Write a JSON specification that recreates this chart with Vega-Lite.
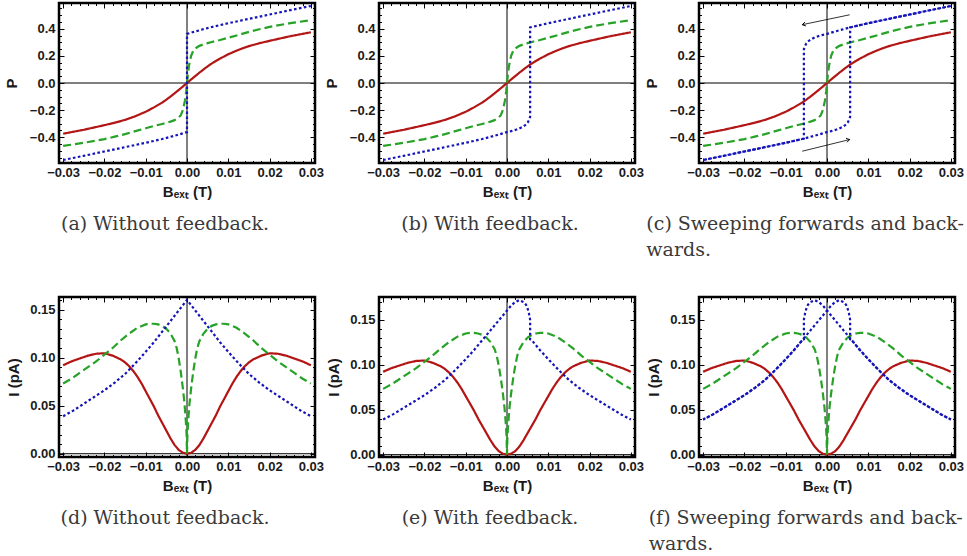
{
"$schema": "https://vega.github.io/schema/vega-lite/v6.json",
"padding": {"left": 3, "top": 0, "right": 5, "bottom": 5},
"background": "white",
"config": {
 "view": {"stroke": "#000000", "strokeWidth": 2, "strokeOpacity": 1},
 "axis": {"grid": false, "domain": false, "tickColor": "black", "tickWidth": 1, "labelFont": "Liberation Sans", "labelFontWeight": "bold", "labelFontSize": 13, "labelColor": "#1a1a1a", "titleFont": "Liberation Sans", "titleFontWeight": "bold", "titleFontSize": 15, "titleColor": "#1a1a1a", "labelFlush": false, "labelOverlap": false},
 "title": {"orient": "bottom", "font": "DejaVu Serif", "fontSize": 19, "fontWeight": "normal", "color": "#3a3a3a", "offset": 15, "anchor": "middle"}
},
"datasets": {
 "arrows": [
  {"dir": "left", "x1": 0.0055, "y1": 0.503, "x2": -0.006, "y2": 0.43},
  {"dir": "right", "x1": -0.006, "y1": -0.503, "x2": 0.0055, "y2": -0.417}
 ],
 "curves": [
  {"p":"abc","s":"rP","c":"red","B":-0.03,"v":-0.374},
  {"p":"abc","s":"rP","c":"red","B":-0.025,"v":-0.345},
  {"p":"abc","s":"rP","c":"red","B":-0.02,"v":-0.311},
  {"p":"abc","s":"rP","c":"red","B":-0.0175,"v":-0.293},
  {"p":"abc","s":"rP","c":"red","B":-0.015,"v":-0.272},
  {"p":"abc","s":"rP","c":"red","B":-0.0125,"v":-0.245},
  {"p":"abc","s":"rP","c":"red","B":-0.01,"v":-0.212},
  {"p":"abc","s":"rP","c":"red","B":-0.008,"v":-0.18},
  {"p":"abc","s":"rP","c":"red","B":-0.006,"v":-0.144},
  {"p":"abc","s":"rP","c":"red","B":-0.005,"v":-0.123},
  {"p":"abc","s":"rP","c":"red","B":-0.004,"v":-0.1},
  {"p":"abc","s":"rP","c":"red","B":-0.003,"v":-0.076},
  {"p":"abc","s":"rP","c":"red","B":-0.002,"v":-0.051},
  {"p":"abc","s":"rP","c":"red","B":-0.001,"v":-0.026},
  {"p":"abc","s":"rP","c":"red","B":0,"v":0},
  {"p":"abc","s":"rP","c":"red","B":0.001,"v":0.026},
  {"p":"abc","s":"rP","c":"red","B":0.002,"v":0.051},
  {"p":"abc","s":"rP","c":"red","B":0.003,"v":0.076},
  {"p":"abc","s":"rP","c":"red","B":0.004,"v":0.1},
  {"p":"abc","s":"rP","c":"red","B":0.005,"v":0.123},
  {"p":"abc","s":"rP","c":"red","B":0.006,"v":0.144},
  {"p":"abc","s":"rP","c":"red","B":0.008,"v":0.18},
  {"p":"abc","s":"rP","c":"red","B":0.01,"v":0.212},
  {"p":"abc","s":"rP","c":"red","B":0.0125,"v":0.245},
  {"p":"abc","s":"rP","c":"red","B":0.015,"v":0.272},
  {"p":"abc","s":"rP","c":"red","B":0.0175,"v":0.293},
  {"p":"abc","s":"rP","c":"red","B":0.02,"v":0.311},
  {"p":"abc","s":"rP","c":"red","B":0.025,"v":0.345},
  {"p":"abc","s":"rP","c":"red","B":0.03,"v":0.374},

  {"p":"abc","s":"gP","c":"green","B":-0.03,"v":-0.464},
  {"p":"abc","s":"gP","c":"green","B":-0.025,"v":-0.441},
  {"p":"abc","s":"gP","c":"green","B":-0.02,"v":-0.414},
  {"p":"abc","s":"gP","c":"green","B":-0.0175,"v":-0.396},
  {"p":"abc","s":"gP","c":"green","B":-0.015,"v":-0.377},
  {"p":"abc","s":"gP","c":"green","B":-0.0125,"v":-0.355},
  {"p":"abc","s":"gP","c":"green","B":-0.01,"v":-0.334},
  {"p":"abc","s":"gP","c":"green","B":-0.008,"v":-0.317},
  {"p":"abc","s":"gP","c":"green","B":-0.006,"v":-0.302},
  {"p":"abc","s":"gP","c":"green","B":-0.005,"v":-0.294},
  {"p":"abc","s":"gP","c":"green","B":-0.004,"v":-0.285},
  {"p":"abc","s":"gP","c":"green","B":-0.003,"v":-0.274},
  {"p":"abc","s":"gP","c":"green","B":-0.002,"v":-0.255},
  {"p":"abc","s":"gP","c":"green","B":-0.0015,"v":-0.237},
  {"p":"abc","s":"gP","c":"green","B":-0.001,"v":-0.2},
  {"p":"abc","s":"gP","c":"green","B":-0.0005,"v":-0.13},
  {"p":"abc","s":"gP","c":"green","B":-0.0002,"v":-0.06},
  {"p":"abc","s":"gP","c":"green","B":0,"v":0},
  {"p":"abc","s":"gP","c":"green","B":0.0002,"v":0.06},
  {"p":"abc","s":"gP","c":"green","B":0.0005,"v":0.13},
  {"p":"abc","s":"gP","c":"green","B":0.001,"v":0.2},
  {"p":"abc","s":"gP","c":"green","B":0.0015,"v":0.237},
  {"p":"abc","s":"gP","c":"green","B":0.002,"v":0.255},
  {"p":"abc","s":"gP","c":"green","B":0.003,"v":0.274},
  {"p":"abc","s":"gP","c":"green","B":0.004,"v":0.285},
  {"p":"abc","s":"gP","c":"green","B":0.005,"v":0.294},
  {"p":"abc","s":"gP","c":"green","B":0.006,"v":0.302},
  {"p":"abc","s":"gP","c":"green","B":0.008,"v":0.317},
  {"p":"abc","s":"gP","c":"green","B":0.01,"v":0.334},
  {"p":"abc","s":"gP","c":"green","B":0.0125,"v":0.355},
  {"p":"abc","s":"gP","c":"green","B":0.015,"v":0.377},
  {"p":"abc","s":"gP","c":"green","B":0.0175,"v":0.396},
  {"p":"abc","s":"gP","c":"green","B":0.02,"v":0.414},
  {"p":"abc","s":"gP","c":"green","B":0.025,"v":0.441},
  {"p":"abc","s":"gP","c":"green","B":0.03,"v":0.464},

  {"p":"a","s":"bA","c":"blue","B":-0.03,"v":-0.568},
  {"p":"a","s":"bA","c":"blue","B":-0.025,"v":-0.537},
  {"p":"a","s":"bA","c":"blue","B":-0.02,"v":-0.505},
  {"p":"a","s":"bA","c":"blue","B":-0.0175,"v":-0.489},
  {"p":"a","s":"bA","c":"blue","B":-0.015,"v":-0.473},
  {"p":"a","s":"bA","c":"blue","B":-0.0125,"v":-0.457},
  {"p":"a","s":"bA","c":"blue","B":-0.01,"v":-0.441},
  {"p":"a","s":"bA","c":"blue","B":-0.008,"v":-0.427},
  {"p":"a","s":"bA","c":"blue","B":-0.006,"v":-0.413},
  {"p":"a","s":"bA","c":"blue","B":-0.004,"v":-0.397},
  {"p":"a","s":"bA","c":"blue","B":-0.002,"v":-0.38},
  {"p":"a","s":"bA","c":"blue","B":0,"v":-0.362},
  {"p":"a","s":"bA","c":"blue","B":0,"v":0.362},
  {"p":"a","s":"bA","c":"blue","B":0.002,"v":0.38},
  {"p":"a","s":"bA","c":"blue","B":0.004,"v":0.397},
  {"p":"a","s":"bA","c":"blue","B":0.006,"v":0.413},
  {"p":"a","s":"bA","c":"blue","B":0.008,"v":0.427},
  {"p":"a","s":"bA","c":"blue","B":0.01,"v":0.441},
  {"p":"a","s":"bA","c":"blue","B":0.0125,"v":0.457},
  {"p":"a","s":"bA","c":"blue","B":0.015,"v":0.473},
  {"p":"a","s":"bA","c":"blue","B":0.0175,"v":0.489},
  {"p":"a","s":"bA","c":"blue","B":0.02,"v":0.505},
  {"p":"a","s":"bA","c":"blue","B":0.025,"v":0.537},
  {"p":"a","s":"bA","c":"blue","B":0.03,"v":0.568},

  {"p":"bc","s":"bF","c":"blue","B":-0.03,"v":-0.568},
  {"p":"bc","s":"bF","c":"blue","B":-0.025,"v":-0.537},
  {"p":"bc","s":"bF","c":"blue","B":-0.02,"v":-0.505},
  {"p":"bc","s":"bF","c":"blue","B":-0.0175,"v":-0.489},
  {"p":"bc","s":"bF","c":"blue","B":-0.015,"v":-0.473},
  {"p":"bc","s":"bF","c":"blue","B":-0.0125,"v":-0.457},
  {"p":"bc","s":"bF","c":"blue","B":-0.01,"v":-0.441},
  {"p":"bc","s":"bF","c":"blue","B":-0.008,"v":-0.427},
  {"p":"bc","s":"bF","c":"blue","B":-0.006,"v":-0.413},
  {"p":"bc","s":"bF","c":"blue","B":-0.004,"v":-0.397},
  {"p":"bc","s":"bF","c":"blue","B":-0.002,"v":-0.38},
  {"p":"bc","s":"bF","c":"blue","B":0,"v":-0.362},
  {"p":"bc","s":"bF","c":"blue","B":0.001,"v":-0.355},
  {"p":"bc","s":"bF","c":"blue","B":0.002,"v":-0.346},
  {"p":"bc","s":"bF","c":"blue","B":0.003,"v":-0.335},
  {"p":"bc","s":"bF","c":"blue","B":0.004,"v":-0.32},
  {"p":"bc","s":"bF","c":"blue","B":0.0045,"v":-0.308},
  {"p":"bc","s":"bF","c":"blue","B":0.005,"v":-0.292},
  {"p":"bc","s":"bF","c":"blue","B":0.0053,"v":-0.275},
  {"p":"bc","s":"bF","c":"blue","B":0.0056,"v":-0.25},
  {"p":"bc","s":"bF","c":"blue","B":0.0056,"v":0.41},
  {"p":"bc","s":"bF","c":"blue","B":0.006,"v":0.413},
  {"p":"bc","s":"bF","c":"blue","B":0.008,"v":0.427},
  {"p":"bc","s":"bF","c":"blue","B":0.01,"v":0.441},
  {"p":"bc","s":"bF","c":"blue","B":0.0125,"v":0.457},
  {"p":"bc","s":"bF","c":"blue","B":0.015,"v":0.473},
  {"p":"bc","s":"bF","c":"blue","B":0.0175,"v":0.489},
  {"p":"bc","s":"bF","c":"blue","B":0.02,"v":0.505},
  {"p":"bc","s":"bF","c":"blue","B":0.025,"v":0.537},
  {"p":"bc","s":"bF","c":"blue","B":0.03,"v":0.568},

  {"p":"c","s":"bR","c":"blue","B":0.03,"v":0.568},
  {"p":"c","s":"bR","c":"blue","B":0.025,"v":0.537},
  {"p":"c","s":"bR","c":"blue","B":0.02,"v":0.505},
  {"p":"c","s":"bR","c":"blue","B":0.0175,"v":0.489},
  {"p":"c","s":"bR","c":"blue","B":0.015,"v":0.473},
  {"p":"c","s":"bR","c":"blue","B":0.0125,"v":0.457},
  {"p":"c","s":"bR","c":"blue","B":0.01,"v":0.441},
  {"p":"c","s":"bR","c":"blue","B":0.008,"v":0.427},
  {"p":"c","s":"bR","c":"blue","B":0.006,"v":0.413},
  {"p":"c","s":"bR","c":"blue","B":0.004,"v":0.397},
  {"p":"c","s":"bR","c":"blue","B":0.002,"v":0.38},
  {"p":"c","s":"bR","c":"blue","B":0,"v":0.362},
  {"p":"c","s":"bR","c":"blue","B":-0.001,"v":0.355},
  {"p":"c","s":"bR","c":"blue","B":-0.002,"v":0.346},
  {"p":"c","s":"bR","c":"blue","B":-0.003,"v":0.335},
  {"p":"c","s":"bR","c":"blue","B":-0.004,"v":0.32},
  {"p":"c","s":"bR","c":"blue","B":-0.0045,"v":0.308},
  {"p":"c","s":"bR","c":"blue","B":-0.005,"v":0.292},
  {"p":"c","s":"bR","c":"blue","B":-0.0053,"v":0.275},
  {"p":"c","s":"bR","c":"blue","B":-0.0056,"v":0.25},
  {"p":"c","s":"bR","c":"blue","B":-0.0056,"v":-0.41},
  {"p":"c","s":"bR","c":"blue","B":-0.006,"v":-0.413},
  {"p":"c","s":"bR","c":"blue","B":-0.008,"v":-0.427},
  {"p":"c","s":"bR","c":"blue","B":-0.01,"v":-0.441},
  {"p":"c","s":"bR","c":"blue","B":-0.0125,"v":-0.457},
  {"p":"c","s":"bR","c":"blue","B":-0.015,"v":-0.473},
  {"p":"c","s":"bR","c":"blue","B":-0.0175,"v":-0.489},
  {"p":"c","s":"bR","c":"blue","B":-0.02,"v":-0.505},
  {"p":"c","s":"bR","c":"blue","B":-0.025,"v":-0.537},
  {"p":"c","s":"bR","c":"blue","B":-0.03,"v":-0.568},

  {"p":"def","s":"rI","c":"red","B":-0.03,"v":0.092},
  {"p":"def","s":"rI","c":"red","B":-0.028,"v":0.096},
  {"p":"def","s":"rI","c":"red","B":-0.026,"v":0.099},
  {"p":"def","s":"rI","c":"red","B":-0.024,"v":0.102},
  {"p":"def","s":"rI","c":"red","B":-0.022,"v":0.104},
  {"p":"def","s":"rI","c":"red","B":-0.02,"v":0.1045},
  {"p":"def","s":"rI","c":"red","B":-0.018,"v":0.102},
  {"p":"def","s":"rI","c":"red","B":-0.016,"v":0.098},
  {"p":"def","s":"rI","c":"red","B":-0.015,"v":0.095},
  {"p":"def","s":"rI","c":"red","B":-0.014,"v":0.091},
  {"p":"def","s":"rI","c":"red","B":-0.013,"v":0.086},
  {"p":"def","s":"rI","c":"red","B":-0.012,"v":0.08},
  {"p":"def","s":"rI","c":"red","B":-0.011,"v":0.073},
  {"p":"def","s":"rI","c":"red","B":-0.01,"v":0.065},
  {"p":"def","s":"rI","c":"red","B":-0.009,"v":0.057},
  {"p":"def","s":"rI","c":"red","B":-0.008,"v":0.049},
  {"p":"def","s":"rI","c":"red","B":-0.007,"v":0.04},
  {"p":"def","s":"rI","c":"red","B":-0.006,"v":0.032},
  {"p":"def","s":"rI","c":"red","B":-0.005,"v":0.024},
  {"p":"def","s":"rI","c":"red","B":-0.004,"v":0.016},
  {"p":"def","s":"rI","c":"red","B":-0.003,"v":0.009},
  {"p":"def","s":"rI","c":"red","B":-0.002,"v":0.004},
  {"p":"def","s":"rI","c":"red","B":-0.001,"v":0.001},
  {"p":"def","s":"rI","c":"red","B":0,"v":0},
  {"p":"def","s":"rI","c":"red","B":0.001,"v":0.001},
  {"p":"def","s":"rI","c":"red","B":0.002,"v":0.004},
  {"p":"def","s":"rI","c":"red","B":0.003,"v":0.009},
  {"p":"def","s":"rI","c":"red","B":0.004,"v":0.016},
  {"p":"def","s":"rI","c":"red","B":0.005,"v":0.024},
  {"p":"def","s":"rI","c":"red","B":0.006,"v":0.032},
  {"p":"def","s":"rI","c":"red","B":0.007,"v":0.04},
  {"p":"def","s":"rI","c":"red","B":0.008,"v":0.049},
  {"p":"def","s":"rI","c":"red","B":0.009,"v":0.057},
  {"p":"def","s":"rI","c":"red","B":0.01,"v":0.065},
  {"p":"def","s":"rI","c":"red","B":0.011,"v":0.073},
  {"p":"def","s":"rI","c":"red","B":0.012,"v":0.08},
  {"p":"def","s":"rI","c":"red","B":0.013,"v":0.086},
  {"p":"def","s":"rI","c":"red","B":0.014,"v":0.091},
  {"p":"def","s":"rI","c":"red","B":0.015,"v":0.095},
  {"p":"def","s":"rI","c":"red","B":0.016,"v":0.098},
  {"p":"def","s":"rI","c":"red","B":0.018,"v":0.102},
  {"p":"def","s":"rI","c":"red","B":0.02,"v":0.1045},
  {"p":"def","s":"rI","c":"red","B":0.022,"v":0.104},
  {"p":"def","s":"rI","c":"red","B":0.024,"v":0.102},
  {"p":"def","s":"rI","c":"red","B":0.026,"v":0.099},
  {"p":"def","s":"rI","c":"red","B":0.028,"v":0.096},
  {"p":"def","s":"rI","c":"red","B":0.03,"v":0.092},

  {"p":"def","s":"gI","c":"green","B":-0.03,"v":0.073},
  {"p":"def","s":"gI","c":"green","B":-0.028,"v":0.078},
  {"p":"def","s":"gI","c":"green","B":-0.026,"v":0.084},
  {"p":"def","s":"gI","c":"green","B":-0.024,"v":0.09},
  {"p":"def","s":"gI","c":"green","B":-0.022,"v":0.096},
  {"p":"def","s":"gI","c":"green","B":-0.02,"v":0.103},
  {"p":"def","s":"gI","c":"green","B":-0.018,"v":0.11},
  {"p":"def","s":"gI","c":"green","B":-0.016,"v":0.118},
  {"p":"def","s":"gI","c":"green","B":-0.014,"v":0.125},
  {"p":"def","s":"gI","c":"green","B":-0.012,"v":0.131},
  {"p":"def","s":"gI","c":"green","B":-0.01,"v":0.1345},
  {"p":"def","s":"gI","c":"green","B":-0.009,"v":0.1352},
  {"p":"def","s":"gI","c":"green","B":-0.008,"v":0.1352},
  {"p":"def","s":"gI","c":"green","B":-0.007,"v":0.1345},
  {"p":"def","s":"gI","c":"green","B":-0.006,"v":0.133},
  {"p":"def","s":"gI","c":"green","B":-0.005,"v":0.13},
  {"p":"def","s":"gI","c":"green","B":-0.004,"v":0.125},
  {"p":"def","s":"gI","c":"green","B":-0.003,"v":0.117},
  {"p":"def","s":"gI","c":"green","B":-0.0025,"v":0.11},
  {"p":"def","s":"gI","c":"green","B":-0.002,"v":0.099},
  {"p":"def","s":"gI","c":"green","B":-0.0015,"v":0.085},
  {"p":"def","s":"gI","c":"green","B":-0.001,"v":0.068},
  {"p":"def","s":"gI","c":"green","B":-0.0006,"v":0.052},
  {"p":"def","s":"gI","c":"green","B":-0.0003,"v":0.035},
  {"p":"def","s":"gI","c":"green","B":-0.0001,"v":0.02},
  {"p":"def","s":"gI","c":"green","B":0,"v":0},
  {"p":"def","s":"gI","c":"green","B":0.0001,"v":0.02},
  {"p":"def","s":"gI","c":"green","B":0.0003,"v":0.035},
  {"p":"def","s":"gI","c":"green","B":0.0006,"v":0.052},
  {"p":"def","s":"gI","c":"green","B":0.001,"v":0.068},
  {"p":"def","s":"gI","c":"green","B":0.0015,"v":0.085},
  {"p":"def","s":"gI","c":"green","B":0.002,"v":0.099},
  {"p":"def","s":"gI","c":"green","B":0.0025,"v":0.11},
  {"p":"def","s":"gI","c":"green","B":0.003,"v":0.117},
  {"p":"def","s":"gI","c":"green","B":0.004,"v":0.125},
  {"p":"def","s":"gI","c":"green","B":0.005,"v":0.13},
  {"p":"def","s":"gI","c":"green","B":0.006,"v":0.133},
  {"p":"def","s":"gI","c":"green","B":0.007,"v":0.1345},
  {"p":"def","s":"gI","c":"green","B":0.008,"v":0.1352},
  {"p":"def","s":"gI","c":"green","B":0.009,"v":0.1352},
  {"p":"def","s":"gI","c":"green","B":0.01,"v":0.1345},
  {"p":"def","s":"gI","c":"green","B":0.012,"v":0.131},
  {"p":"def","s":"gI","c":"green","B":0.014,"v":0.125},
  {"p":"def","s":"gI","c":"green","B":0.016,"v":0.118},
  {"p":"def","s":"gI","c":"green","B":0.018,"v":0.11},
  {"p":"def","s":"gI","c":"green","B":0.02,"v":0.103},
  {"p":"def","s":"gI","c":"green","B":0.022,"v":0.096},
  {"p":"def","s":"gI","c":"green","B":0.024,"v":0.09},
  {"p":"def","s":"gI","c":"green","B":0.026,"v":0.084},
  {"p":"def","s":"gI","c":"green","B":0.028,"v":0.078},
  {"p":"def","s":"gI","c":"green","B":0.03,"v":0.073},

  {"p":"d","s":"bD","c":"blue","B":-0.03,"v":0.039},
  {"p":"d","s":"bD","c":"blue","B":-0.0275,"v":0.045},
  {"p":"d","s":"bD","c":"blue","B":-0.025,"v":0.052},
  {"p":"d","s":"bD","c":"blue","B":-0.0225,"v":0.059},
  {"p":"d","s":"bD","c":"blue","B":-0.02,"v":0.066},
  {"p":"d","s":"bD","c":"blue","B":-0.0175,"v":0.074},
  {"p":"d","s":"bD","c":"blue","B":-0.015,"v":0.083},
  {"p":"d","s":"bD","c":"blue","B":-0.0125,"v":0.094},
  {"p":"d","s":"bD","c":"blue","B":-0.01,"v":0.106},
  {"p":"d","s":"bD","c":"blue","B":-0.008,"v":0.116},
  {"p":"d","s":"bD","c":"blue","B":-0.006,"v":0.127},
  {"p":"d","s":"bD","c":"blue","B":-0.004,"v":0.138},
  {"p":"d","s":"bD","c":"blue","B":-0.002,"v":0.149},
  {"p":"d","s":"bD","c":"blue","B":0,"v":0.16},
  {"p":"d","s":"bD","c":"blue","B":0.002,"v":0.149},
  {"p":"d","s":"bD","c":"blue","B":0.004,"v":0.138},
  {"p":"d","s":"bD","c":"blue","B":0.006,"v":0.127},
  {"p":"d","s":"bD","c":"blue","B":0.008,"v":0.116},
  {"p":"d","s":"bD","c":"blue","B":0.01,"v":0.106},
  {"p":"d","s":"bD","c":"blue","B":0.0125,"v":0.094},
  {"p":"d","s":"bD","c":"blue","B":0.015,"v":0.083},
  {"p":"d","s":"bD","c":"blue","B":0.0175,"v":0.074},
  {"p":"d","s":"bD","c":"blue","B":0.02,"v":0.066},
  {"p":"d","s":"bD","c":"blue","B":0.0225,"v":0.059},
  {"p":"d","s":"bD","c":"blue","B":0.025,"v":0.052},
  {"p":"d","s":"bD","c":"blue","B":0.0275,"v":0.045},
  {"p":"d","s":"bD","c":"blue","B":0.03,"v":0.039},

  {"p":"ef","s":"bFI","c":"blue","B":-0.03,"v":0.039},
  {"p":"ef","s":"bFI","c":"blue","B":-0.0275,"v":0.045},
  {"p":"ef","s":"bFI","c":"blue","B":-0.025,"v":0.052},
  {"p":"ef","s":"bFI","c":"blue","B":-0.0225,"v":0.059},
  {"p":"ef","s":"bFI","c":"blue","B":-0.02,"v":0.066},
  {"p":"ef","s":"bFI","c":"blue","B":-0.0175,"v":0.074},
  {"p":"ef","s":"bFI","c":"blue","B":-0.015,"v":0.083},
  {"p":"ef","s":"bFI","c":"blue","B":-0.0125,"v":0.094},
  {"p":"ef","s":"bFI","c":"blue","B":-0.01,"v":0.106},
  {"p":"ef","s":"bFI","c":"blue","B":-0.008,"v":0.116},
  {"p":"ef","s":"bFI","c":"blue","B":-0.006,"v":0.127},
  {"p":"ef","s":"bFI","c":"blue","B":-0.004,"v":0.138},
  {"p":"ef","s":"bFI","c":"blue","B":-0.002,"v":0.149},
  {"p":"ef","s":"bFI","c":"blue","B":0,"v":0.16},
  {"p":"ef","s":"bFI","c":"blue","B":0.001,"v":0.1655},
  {"p":"ef","s":"bFI","c":"blue","B":0.002,"v":0.1695},
  {"p":"ef","s":"bFI","c":"blue","B":0.003,"v":0.1715},
  {"p":"ef","s":"bFI","c":"blue","B":0.004,"v":0.1695},
  {"p":"ef","s":"bFI","c":"blue","B":0.0046,"v":0.1665},
  {"p":"ef","s":"bFI","c":"blue","B":0.005,"v":0.162},
  {"p":"ef","s":"bFI","c":"blue","B":0.0053,"v":0.157},
  {"p":"ef","s":"bFI","c":"blue","B":0.0056,"v":0.15},
  {"p":"ef","s":"bFI","c":"blue","B":0.0056,"v":0.128},
  {"p":"ef","s":"bFI","c":"blue","B":0.006,"v":0.127},
  {"p":"ef","s":"bFI","c":"blue","B":0.008,"v":0.116},
  {"p":"ef","s":"bFI","c":"blue","B":0.01,"v":0.106},
  {"p":"ef","s":"bFI","c":"blue","B":0.0125,"v":0.094},
  {"p":"ef","s":"bFI","c":"blue","B":0.015,"v":0.083},
  {"p":"ef","s":"bFI","c":"blue","B":0.0175,"v":0.074},
  {"p":"ef","s":"bFI","c":"blue","B":0.02,"v":0.066},
  {"p":"ef","s":"bFI","c":"blue","B":0.0225,"v":0.059},
  {"p":"ef","s":"bFI","c":"blue","B":0.025,"v":0.052},
  {"p":"ef","s":"bFI","c":"blue","B":0.0275,"v":0.045},
  {"p":"ef","s":"bFI","c":"blue","B":0.03,"v":0.039},

  {"p":"f","s":"bRI","c":"blue","B":0.03,"v":0.039},
  {"p":"f","s":"bRI","c":"blue","B":0.0275,"v":0.045},
  {"p":"f","s":"bRI","c":"blue","B":0.025,"v":0.052},
  {"p":"f","s":"bRI","c":"blue","B":0.0225,"v":0.059},
  {"p":"f","s":"bRI","c":"blue","B":0.02,"v":0.066},
  {"p":"f","s":"bRI","c":"blue","B":0.0175,"v":0.074},
  {"p":"f","s":"bRI","c":"blue","B":0.015,"v":0.083},
  {"p":"f","s":"bRI","c":"blue","B":0.0125,"v":0.094},
  {"p":"f","s":"bRI","c":"blue","B":0.01,"v":0.106},
  {"p":"f","s":"bRI","c":"blue","B":0.008,"v":0.116},
  {"p":"f","s":"bRI","c":"blue","B":0.006,"v":0.127},
  {"p":"f","s":"bRI","c":"blue","B":0.004,"v":0.138},
  {"p":"f","s":"bRI","c":"blue","B":0.002,"v":0.149},
  {"p":"f","s":"bRI","c":"blue","B":0,"v":0.16},
  {"p":"f","s":"bRI","c":"blue","B":-0.001,"v":0.1655},
  {"p":"f","s":"bRI","c":"blue","B":-0.002,"v":0.1695},
  {"p":"f","s":"bRI","c":"blue","B":-0.003,"v":0.1715},
  {"p":"f","s":"bRI","c":"blue","B":-0.004,"v":0.1695},
  {"p":"f","s":"bRI","c":"blue","B":-0.0046,"v":0.1665},
  {"p":"f","s":"bRI","c":"blue","B":-0.005,"v":0.162},
  {"p":"f","s":"bRI","c":"blue","B":-0.0053,"v":0.157},
  {"p":"f","s":"bRI","c":"blue","B":-0.0056,"v":0.15},
  {"p":"f","s":"bRI","c":"blue","B":-0.0056,"v":0.128},
  {"p":"f","s":"bRI","c":"blue","B":-0.006,"v":0.127},
  {"p":"f","s":"bRI","c":"blue","B":-0.008,"v":0.116},
  {"p":"f","s":"bRI","c":"blue","B":-0.01,"v":0.106},
  {"p":"f","s":"bRI","c":"blue","B":-0.0125,"v":0.094},
  {"p":"f","s":"bRI","c":"blue","B":-0.015,"v":0.083},
  {"p":"f","s":"bRI","c":"blue","B":-0.0175,"v":0.074},
  {"p":"f","s":"bRI","c":"blue","B":-0.02,"v":0.066},
  {"p":"f","s":"bRI","c":"blue","B":-0.0225,"v":0.059},
  {"p":"f","s":"bRI","c":"blue","B":-0.025,"v":0.052},
  {"p":"f","s":"bRI","c":"blue","B":-0.0275,"v":0.045},
  {"p":"f","s":"bRI","c":"blue","B":-0.03,"v":0.039}
 ]
},
"spacing": 31,
"vconcat": [
 {"bounds": "flush", "spacing": 64, "hconcat": [
  {"width": 256, "height": 160, "title": {"text": "(a) Without feedback.", "dx": -22},
   "resolve": {"axis": {"x": "independent", "y": "independent"}},
   "layer": [
    {"data": {"values": [{}]}, "mark": {"type": "rule", "color": "black", "strokeWidth": 1},
     "encoding": {"x": {"datum": 0, "type": "quantitative", "scale": {"domain": [-0.031, 0.031], "nice": false, "zero": false},
       "axis": {"orient": "top", "labels": false, "title": null, "values": [-0.03,-0.028,-0.026,-0.024,-0.022,-0.02,-0.018,-0.016,-0.014,-0.012,-0.01,-0.008,-0.006,-0.004,-0.002,0,0.002,0.004,0.006,0.008,0.01,0.012,0.014,0.016,0.018,0.02,0.022,0.024,0.026,0.028,0.03],
        "tickSize": {"condition": {"test": "abs(datum.value*100-round(datum.value*100))<0.01", "value": -5}, "value": -2.5}}}}},
    {"data": {"values": [{}]}, "mark": {"type": "rule", "color": "black", "strokeWidth": 1},
     "encoding": {"y": {"datum": 0, "type": "quantitative", "scale": {"domain": [-0.59, 0.59], "nice": false, "zero": false},
       "axis": {"orient": "right", "labels": false, "title": null, "values": [-0.55,-0.5,-0.45,-0.4,-0.35,-0.3,-0.25,-0.2,-0.15,-0.1,-0.05,0,0.05,0.1,0.15,0.2,0.25,0.3,0.35,0.4,0.45,0.5,0.55],
        "tickSize": {"condition": {"test": "abs(datum.value*5-round(datum.value*5))<0.01", "value": -5}, "value": -2.5}}}}},
    {"data": {"name": "curves"}, "transform": [{"filter": "indexof(datum.p, 'a') >= 0"}],
     "mark": {"type": "line", "strokeWidth": 2.2},
     "encoding": {
      "x": {"field": "B", "type": "quantitative", "scale": {"domain": [-0.031, 0.031], "nice": false, "zero": false},
       "axis": {"orient": "bottom", "title": "Bₑₓₜ (T)", "titlePadding": 3, "labelPadding": 8, "values": [-0.03,-0.028,-0.026,-0.024,-0.022,-0.02,-0.018,-0.016,-0.014,-0.012,-0.01,-0.008,-0.006,-0.004,-0.002,0,0.002,0.004,0.006,0.008,0.01,0.012,0.014,0.016,0.018,0.02,0.022,0.024,0.026,0.028,0.03],
        "labelExpr": "abs(datum.value*100-round(datum.value*100))<0.01 ? format(datum.value, '.2f') : ''",
        "tickSize": {"condition": {"test": "abs(datum.value*100-round(datum.value*100))<0.01", "value": -5}, "value": -2.5}}},
      "y": {"field": "v", "type": "quantitative", "scale": {"domain": [-0.59, 0.59], "nice": false, "zero": false},
       "axis": {"orient": "left", "title": "P", "titlePadding": 10, "labelPadding": 9, "values": [-0.55,-0.5,-0.45,-0.4,-0.35,-0.3,-0.25,-0.2,-0.15,-0.1,-0.05,0,0.05,0.1,0.15,0.2,0.25,0.3,0.35,0.4,0.45,0.5,0.55],
        "labelExpr": "abs(datum.value*5-round(datum.value*5))<0.01 ? format(datum.value, '.1f') : ''",
        "tickSize": {"condition": {"test": "abs(datum.value*5-round(datum.value*5))<0.01", "value": -5}, "value": -2.5}}},
      "color": {"field": "c", "type": "nominal", "scale": {"domain": ["red", "green", "blue"], "range": ["#b31414", "#26a326", "#1414b8"]}, "legend": null},
      "strokeDash": {"field": "c", "type": "nominal", "scale": {"domain": ["red", "green", "blue"], "range": [[1, 0], [8, 4], [2.6, 2.4]]}, "legend": null},
      "detail": {"field": "s"},
      "order": {"value": null}
     }},
    {"data": {"values": [{}]}, "mark": {"type": "rect", "fill": null, "stroke": "#000000", "strokeWidth": 2.5, "strokeOpacity": 1},
     "encoding": {
      "x": {"datum": -0.031, "type": "quantitative", "scale": {"domain": [-0.031, 0.031], "nice": false, "zero": false}, "axis": null},
      "x2": {"datum": 0.031},
      "y": {"datum": -0.59, "type": "quantitative", "scale": {"domain": [-0.59, 0.59], "nice": false, "zero": false}, "axis": null},
      "y2": {"datum": 0.59}}}
   ]},
  {"width": 256, "height": 160, "title": {"text": "(b) With feedback.", "dx": -17},
   "resolve": {"axis": {"x": "independent", "y": "independent"}},
   "layer": [
    {"data": {"values": [{}]}, "mark": {"type": "rule", "color": "black", "strokeWidth": 1},
     "encoding": {"x": {"datum": 0, "type": "quantitative", "scale": {"domain": [-0.031, 0.031], "nice": false, "zero": false},
       "axis": {"orient": "top", "labels": false, "title": null, "values": [-0.03,-0.028,-0.026,-0.024,-0.022,-0.02,-0.018,-0.016,-0.014,-0.012,-0.01,-0.008,-0.006,-0.004,-0.002,0,0.002,0.004,0.006,0.008,0.01,0.012,0.014,0.016,0.018,0.02,0.022,0.024,0.026,0.028,0.03],
        "tickSize": {"condition": {"test": "abs(datum.value*100-round(datum.value*100))<0.01", "value": -5}, "value": -2.5}}}}},
    {"data": {"values": [{}]}, "mark": {"type": "rule", "color": "black", "strokeWidth": 1},
     "encoding": {"y": {"datum": 0, "type": "quantitative", "scale": {"domain": [-0.59, 0.59], "nice": false, "zero": false},
       "axis": {"orient": "right", "labels": false, "title": null, "values": [-0.55,-0.5,-0.45,-0.4,-0.35,-0.3,-0.25,-0.2,-0.15,-0.1,-0.05,0,0.05,0.1,0.15,0.2,0.25,0.3,0.35,0.4,0.45,0.5,0.55],
        "tickSize": {"condition": {"test": "abs(datum.value*5-round(datum.value*5))<0.01", "value": -5}, "value": -2.5}}}}},
    {"data": {"name": "curves"}, "transform": [{"filter": "indexof(datum.p, 'b') >= 0"}],
     "mark": {"type": "line", "strokeWidth": 2.2},
     "encoding": {
      "x": {"field": "B", "type": "quantitative", "scale": {"domain": [-0.031, 0.031], "nice": false, "zero": false},
       "axis": {"orient": "bottom", "title": "Bₑₓₜ (T)", "titlePadding": 3, "labelPadding": 8, "values": [-0.03,-0.028,-0.026,-0.024,-0.022,-0.02,-0.018,-0.016,-0.014,-0.012,-0.01,-0.008,-0.006,-0.004,-0.002,0,0.002,0.004,0.006,0.008,0.01,0.012,0.014,0.016,0.018,0.02,0.022,0.024,0.026,0.028,0.03],
        "labelExpr": "abs(datum.value*100-round(datum.value*100))<0.01 ? format(datum.value, '.2f') : ''",
        "tickSize": {"condition": {"test": "abs(datum.value*100-round(datum.value*100))<0.01", "value": -5}, "value": -2.5}}},
      "y": {"field": "v", "type": "quantitative", "scale": {"domain": [-0.59, 0.59], "nice": false, "zero": false},
       "axis": {"orient": "left", "title": "P", "titlePadding": 10, "labelPadding": 9, "values": [-0.55,-0.5,-0.45,-0.4,-0.35,-0.3,-0.25,-0.2,-0.15,-0.1,-0.05,0,0.05,0.1,0.15,0.2,0.25,0.3,0.35,0.4,0.45,0.5,0.55],
        "labelExpr": "abs(datum.value*5-round(datum.value*5))<0.01 ? format(datum.value, '.1f') : ''",
        "tickSize": {"condition": {"test": "abs(datum.value*5-round(datum.value*5))<0.01", "value": -5}, "value": -2.5}}},
      "color": {"field": "c", "type": "nominal", "scale": {"domain": ["red", "green", "blue"], "range": ["#b31414", "#26a326", "#1414b8"]}, "legend": null},
      "strokeDash": {"field": "c", "type": "nominal", "scale": {"domain": ["red", "green", "blue"], "range": [[1, 0], [8, 4], [2.6, 2.4]]}, "legend": null},
      "detail": {"field": "s"},
      "order": {"value": null}
     }},
    {"data": {"values": [{}]}, "mark": {"type": "rect", "fill": null, "stroke": "#000000", "strokeWidth": 2.5, "strokeOpacity": 1},
     "encoding": {
      "x": {"datum": -0.031, "type": "quantitative", "scale": {"domain": [-0.031, 0.031], "nice": false, "zero": false}, "axis": null},
      "x2": {"datum": 0.031},
      "y": {"datum": -0.59, "type": "quantitative", "scale": {"domain": [-0.59, 0.59], "nice": false, "zero": false}, "axis": null},
      "y2": {"datum": 0.59}}}
   ]},
  {"width": 256, "height": 160, "title": {"text": ["(c) Sweeping forwards and back-", "wards."], "anchor": "start", "dx": 2, "lineHeight": 26},
   "resolve": {"axis": {"x": "independent", "y": "independent"}},
   "layer": [
    {"data": {"values": [{}]}, "mark": {"type": "rule", "color": "black", "strokeWidth": 1},
     "encoding": {"x": {"datum": 0, "type": "quantitative", "scale": {"domain": [-0.031, 0.031], "nice": false, "zero": false},
       "axis": {"orient": "top", "labels": false, "title": null, "values": [-0.03,-0.028,-0.026,-0.024,-0.022,-0.02,-0.018,-0.016,-0.014,-0.012,-0.01,-0.008,-0.006,-0.004,-0.002,0,0.002,0.004,0.006,0.008,0.01,0.012,0.014,0.016,0.018,0.02,0.022,0.024,0.026,0.028,0.03],
        "tickSize": {"condition": {"test": "abs(datum.value*100-round(datum.value*100))<0.01", "value": -5}, "value": -2.5}}}}},
    {"data": {"values": [{}]}, "mark": {"type": "rule", "color": "black", "strokeWidth": 1},
     "encoding": {"y": {"datum": 0, "type": "quantitative", "scale": {"domain": [-0.59, 0.59], "nice": false, "zero": false},
       "axis": {"orient": "right", "labels": false, "title": null, "values": [-0.55,-0.5,-0.45,-0.4,-0.35,-0.3,-0.25,-0.2,-0.15,-0.1,-0.05,0,0.05,0.1,0.15,0.2,0.25,0.3,0.35,0.4,0.45,0.5,0.55],
        "tickSize": {"condition": {"test": "abs(datum.value*5-round(datum.value*5))<0.01", "value": -5}, "value": -2.5}}}}},
    {"data": {"name": "curves"}, "transform": [{"filter": "indexof(datum.p, 'c') >= 0"}],
     "mark": {"type": "line", "strokeWidth": 2.2},
     "encoding": {
      "x": {"field": "B", "type": "quantitative", "scale": {"domain": [-0.031, 0.031], "nice": false, "zero": false},
       "axis": {"orient": "bottom", "title": "Bₑₓₜ (T)", "titlePadding": 3, "labelPadding": 8, "values": [-0.03,-0.028,-0.026,-0.024,-0.022,-0.02,-0.018,-0.016,-0.014,-0.012,-0.01,-0.008,-0.006,-0.004,-0.002,0,0.002,0.004,0.006,0.008,0.01,0.012,0.014,0.016,0.018,0.02,0.022,0.024,0.026,0.028,0.03],
        "labelExpr": "abs(datum.value*100-round(datum.value*100))<0.01 ? format(datum.value, '.2f') : ''",
        "tickSize": {"condition": {"test": "abs(datum.value*100-round(datum.value*100))<0.01", "value": -5}, "value": -2.5}}},
      "y": {"field": "v", "type": "quantitative", "scale": {"domain": [-0.59, 0.59], "nice": false, "zero": false},
       "axis": {"orient": "left", "title": "P", "titlePadding": 10, "labelPadding": 9, "values": [-0.55,-0.5,-0.45,-0.4,-0.35,-0.3,-0.25,-0.2,-0.15,-0.1,-0.05,0,0.05,0.1,0.15,0.2,0.25,0.3,0.35,0.4,0.45,0.5,0.55],
        "labelExpr": "abs(datum.value*5-round(datum.value*5))<0.01 ? format(datum.value, '.1f') : ''",
        "tickSize": {"condition": {"test": "abs(datum.value*5-round(datum.value*5))<0.01", "value": -5}, "value": -2.5}}},
      "color": {"field": "c", "type": "nominal", "scale": {"domain": ["red", "green", "blue"], "range": ["#b31414", "#26a326", "#1414b8"]}, "legend": null},
      "strokeDash": {"field": "c", "type": "nominal", "scale": {"domain": ["red", "green", "blue"], "range": [[1, 0], [8, 4], [2.6, 2.4]]}, "legend": null},
      "detail": {"field": "s"},
      "order": {"value": null}
     }},
    {"data": {"name": "arrows"}, "mark": {"type": "rule", "color": "black", "strokeWidth": 0.8},
     "encoding": {
      "x": {"field": "x1", "type": "quantitative", "scale": {"domain": [-0.031, 0.031], "nice": false, "zero": false}, "axis": null},
      "y": {"field": "y1", "type": "quantitative", "scale": {"domain": [-0.59, 0.59], "nice": false, "zero": false}, "axis": null},
      "x2": {"field": "x2"}, "y2": {"field": "y2"}}},
    {"data": {"name": "arrows"}, "mark": {"type": "point", "shape": "M -1 -0.6 L 0 0 L -1 0.6", "filled": false, "stroke": "black", "strokeWidth": 0.9, "size": 45, "opacity": 1},
     "encoding": {
      "x": {"field": "x2", "type": "quantitative", "scale": {"domain": [-0.031, 0.031], "nice": false, "zero": false}, "axis": null},
      "y": {"field": "y2", "type": "quantitative", "scale": {"domain": [-0.59, 0.59], "nice": false, "zero": false}, "axis": null},
      "angle": {"condition": {"test": "datum.dir == 'left'", "value": 168}, "value": 346}}},
    {"data": {"values": [{}]}, "mark": {"type": "rect", "fill": null, "stroke": "#000000", "strokeWidth": 2.5, "strokeOpacity": 1},
     "encoding": {
      "x": {"datum": -0.031, "type": "quantitative", "scale": {"domain": [-0.031, 0.031], "nice": false, "zero": false}, "axis": null},
      "x2": {"datum": 0.031},
      "y": {"datum": -0.59, "type": "quantitative", "scale": {"domain": [-0.59, 0.59], "nice": false, "zero": false}, "axis": null},
      "y2": {"datum": 0.59}}}
   ]}
 ]},
 {"bounds": "flush", "spacing": 64, "hconcat": [
  {"width": 256, "height": 160, "title": {"text": "(d) Without feedback.", "dx": -22},
   "resolve": {"axis": {"x": "independent", "y": "independent"}},
   "layer": [
    {"data": {"values": [{}]}, "mark": {"type": "rule", "color": "black", "strokeWidth": 1},
     "encoding": {"x": {"datum": 0, "type": "quantitative", "scale": {"domain": [-0.031, 0.031], "nice": false, "zero": false},
       "axis": {"orient": "top", "labels": false, "title": null, "values": [-0.03,-0.028,-0.026,-0.024,-0.022,-0.02,-0.018,-0.016,-0.014,-0.012,-0.01,-0.008,-0.006,-0.004,-0.002,0,0.002,0.004,0.006,0.008,0.01,0.012,0.014,0.016,0.018,0.02,0.022,0.024,0.026,0.028,0.03],
        "tickSize": {"condition": {"test": "abs(datum.value*100-round(datum.value*100))<0.01", "value": -5}, "value": -2.5}}}}},
    {"data": {"values": [{}]}, "mark": {"type": "rule", "color": "black", "strokeWidth": 1},
     "encoding": {"y": {"datum": 0, "type": "quantitative", "scale": {"domain": [-0.0034, 0.163], "nice": false, "zero": false},
       "axis": {"orient": "right", "labels": false, "title": null, "values": [0,0.01,0.02,0.03,0.04,0.05,0.06,0.07,0.08,0.09,0.1,0.11,0.12,0.13,0.14,0.15,0.16],
        "tickSize": {"condition": {"test": "abs(datum.value*20-round(datum.value*20))<0.01", "value": -5}, "value": -2.5}}}}},
    {"data": {"name": "curves"}, "transform": [{"filter": "indexof(datum.p, 'd') >= 0"}],
     "mark": {"type": "line", "strokeWidth": 2.2},
     "encoding": {
      "x": {"field": "B", "type": "quantitative", "scale": {"domain": [-0.031, 0.031], "nice": false, "zero": false},
       "axis": {"orient": "bottom", "title": "Bₑₓₜ (T)", "titlePadding": 3, "labelPadding": 8, "values": [-0.03,-0.028,-0.026,-0.024,-0.022,-0.02,-0.018,-0.016,-0.014,-0.012,-0.01,-0.008,-0.006,-0.004,-0.002,0,0.002,0.004,0.006,0.008,0.01,0.012,0.014,0.016,0.018,0.02,0.022,0.024,0.026,0.028,0.03],
        "labelExpr": "abs(datum.value*100-round(datum.value*100))<0.01 ? format(datum.value, '.2f') : ''",
        "tickSize": {"condition": {"test": "abs(datum.value*100-round(datum.value*100))<0.01", "value": -5}, "value": -2.5}}},
      "y": {"field": "v", "type": "quantitative", "scale": {"domain": [-0.0034, 0.163], "nice": false, "zero": false},
       "axis": {"orient": "left", "title": "I (pA)", "titlePadding": 8, "labelPadding": 9, "values": [0,0.01,0.02,0.03,0.04,0.05,0.06,0.07,0.08,0.09,0.1,0.11,0.12,0.13,0.14,0.15,0.16],
        "labelExpr": "abs(datum.value*20-round(datum.value*20))<0.01 ? format(datum.value, '.2f') : ''",
        "tickSize": {"condition": {"test": "abs(datum.value*20-round(datum.value*20))<0.01", "value": -5}, "value": -2.5}}},
      "color": {"field": "c", "type": "nominal", "scale": {"domain": ["red", "green", "blue"], "range": ["#b31414", "#26a326", "#1414b8"]}, "legend": null},
      "strokeDash": {"field": "c", "type": "nominal", "scale": {"domain": ["red", "green", "blue"], "range": [[1, 0], [8, 4], [2.6, 2.4]]}, "legend": null},
      "detail": {"field": "s"},
      "order": {"value": null}
     }},
    {"data": {"values": [{}]}, "mark": {"type": "rect", "fill": null, "stroke": "#000000", "strokeWidth": 2.5, "strokeOpacity": 1},
     "encoding": {
      "x": {"datum": -0.031, "type": "quantitative", "scale": {"domain": [-0.031, 0.031], "nice": false, "zero": false}, "axis": null},
      "x2": {"datum": 0.031},
      "y": {"datum": -0.0034, "type": "quantitative", "scale": {"domain": [-0.0034, 0.163], "nice": false, "zero": false}, "axis": null},
      "y2": {"datum": 0.163}}}
   ]},
  {"width": 256, "height": 160, "title": {"text": "(e) With feedback.", "dx": -17},
   "resolve": {"axis": {"x": "independent", "y": "independent"}},
   "layer": [
    {"data": {"values": [{}]}, "mark": {"type": "rule", "color": "black", "strokeWidth": 1},
     "encoding": {"x": {"datum": 0, "type": "quantitative", "scale": {"domain": [-0.031, 0.031], "nice": false, "zero": false},
       "axis": {"orient": "top", "labels": false, "title": null, "values": [-0.03,-0.028,-0.026,-0.024,-0.022,-0.02,-0.018,-0.016,-0.014,-0.012,-0.01,-0.008,-0.006,-0.004,-0.002,0,0.002,0.004,0.006,0.008,0.01,0.012,0.014,0.016,0.018,0.02,0.022,0.024,0.026,0.028,0.03],
        "tickSize": {"condition": {"test": "abs(datum.value*100-round(datum.value*100))<0.01", "value": -5}, "value": -2.5}}}}},
    {"data": {"values": [{}]}, "mark": {"type": "rule", "color": "black", "strokeWidth": 1},
     "encoding": {"y": {"datum": 0, "type": "quantitative", "scale": {"domain": [-0.0026, 0.175], "nice": false, "zero": false},
       "axis": {"orient": "right", "labels": false, "title": null, "values": [0,0.01,0.02,0.03,0.04,0.05,0.06,0.07,0.08,0.09,0.1,0.11,0.12,0.13,0.14,0.15,0.16,0.17],
        "tickSize": {"condition": {"test": "abs(datum.value*20-round(datum.value*20))<0.01", "value": -5}, "value": -2.5}}}}},
    {"data": {"name": "curves"}, "transform": [{"filter": "indexof(datum.p, 'e') >= 0"}],
     "mark": {"type": "line", "strokeWidth": 2.2},
     "encoding": {
      "x": {"field": "B", "type": "quantitative", "scale": {"domain": [-0.031, 0.031], "nice": false, "zero": false},
       "axis": {"orient": "bottom", "title": "Bₑₓₜ (T)", "titlePadding": 3, "labelPadding": 8, "values": [-0.03,-0.028,-0.026,-0.024,-0.022,-0.02,-0.018,-0.016,-0.014,-0.012,-0.01,-0.008,-0.006,-0.004,-0.002,0,0.002,0.004,0.006,0.008,0.01,0.012,0.014,0.016,0.018,0.02,0.022,0.024,0.026,0.028,0.03],
        "labelExpr": "abs(datum.value*100-round(datum.value*100))<0.01 ? format(datum.value, '.2f') : ''",
        "tickSize": {"condition": {"test": "abs(datum.value*100-round(datum.value*100))<0.01", "value": -5}, "value": -2.5}}},
      "y": {"field": "v", "type": "quantitative", "scale": {"domain": [-0.0026, 0.175], "nice": false, "zero": false},
       "axis": {"orient": "left", "title": "I (pA)", "titlePadding": 8, "labelPadding": 9, "values": [0,0.01,0.02,0.03,0.04,0.05,0.06,0.07,0.08,0.09,0.1,0.11,0.12,0.13,0.14,0.15,0.16,0.17],
        "labelExpr": "abs(datum.value*20-round(datum.value*20))<0.01 ? format(datum.value, '.2f') : ''",
        "tickSize": {"condition": {"test": "abs(datum.value*20-round(datum.value*20))<0.01", "value": -5}, "value": -2.5}}},
      "color": {"field": "c", "type": "nominal", "scale": {"domain": ["red", "green", "blue"], "range": ["#b31414", "#26a326", "#1414b8"]}, "legend": null},
      "strokeDash": {"field": "c", "type": "nominal", "scale": {"domain": ["red", "green", "blue"], "range": [[1, 0], [8, 4], [2.6, 2.4]]}, "legend": null},
      "detail": {"field": "s"},
      "order": {"value": null}
     }},
    {"data": {"values": [{}]}, "mark": {"type": "rect", "fill": null, "stroke": "#000000", "strokeWidth": 2.5, "strokeOpacity": 1},
     "encoding": {
      "x": {"datum": -0.031, "type": "quantitative", "scale": {"domain": [-0.031, 0.031], "nice": false, "zero": false}, "axis": null},
      "x2": {"datum": 0.031},
      "y": {"datum": -0.0026, "type": "quantitative", "scale": {"domain": [-0.0026, 0.175], "nice": false, "zero": false}, "axis": null},
      "y2": {"datum": 0.175}}}
   ]},
  {"width": 256, "height": 160, "title": {"text": ["(f) Sweeping forwards and back-", "wards."], "anchor": "start", "dx": 2, "lineHeight": 26},
   "resolve": {"axis": {"x": "independent", "y": "independent"}},
   "layer": [
    {"data": {"values": [{}]}, "mark": {"type": "rule", "color": "black", "strokeWidth": 1},
     "encoding": {"x": {"datum": 0, "type": "quantitative", "scale": {"domain": [-0.031, 0.031], "nice": false, "zero": false},
       "axis": {"orient": "top", "labels": false, "title": null, "values": [-0.03,-0.028,-0.026,-0.024,-0.022,-0.02,-0.018,-0.016,-0.014,-0.012,-0.01,-0.008,-0.006,-0.004,-0.002,0,0.002,0.004,0.006,0.008,0.01,0.012,0.014,0.016,0.018,0.02,0.022,0.024,0.026,0.028,0.03],
        "tickSize": {"condition": {"test": "abs(datum.value*100-round(datum.value*100))<0.01", "value": -5}, "value": -2.5}}}}},
    {"data": {"values": [{}]}, "mark": {"type": "rule", "color": "black", "strokeWidth": 1},
     "encoding": {"y": {"datum": 0, "type": "quantitative", "scale": {"domain": [-0.0026, 0.175], "nice": false, "zero": false},
       "axis": {"orient": "right", "labels": false, "title": null, "values": [0,0.01,0.02,0.03,0.04,0.05,0.06,0.07,0.08,0.09,0.1,0.11,0.12,0.13,0.14,0.15,0.16,0.17],
        "tickSize": {"condition": {"test": "abs(datum.value*20-round(datum.value*20))<0.01", "value": -5}, "value": -2.5}}}}},
    {"data": {"name": "curves"}, "transform": [{"filter": "indexof(datum.p, 'f') >= 0"}],
     "mark": {"type": "line", "strokeWidth": 2.2},
     "encoding": {
      "x": {"field": "B", "type": "quantitative", "scale": {"domain": [-0.031, 0.031], "nice": false, "zero": false},
       "axis": {"orient": "bottom", "title": "Bₑₓₜ (T)", "titlePadding": 3, "labelPadding": 8, "values": [-0.03,-0.028,-0.026,-0.024,-0.022,-0.02,-0.018,-0.016,-0.014,-0.012,-0.01,-0.008,-0.006,-0.004,-0.002,0,0.002,0.004,0.006,0.008,0.01,0.012,0.014,0.016,0.018,0.02,0.022,0.024,0.026,0.028,0.03],
        "labelExpr": "abs(datum.value*100-round(datum.value*100))<0.01 ? format(datum.value, '.2f') : ''",
        "tickSize": {"condition": {"test": "abs(datum.value*100-round(datum.value*100))<0.01", "value": -5}, "value": -2.5}}},
      "y": {"field": "v", "type": "quantitative", "scale": {"domain": [-0.0026, 0.175], "nice": false, "zero": false},
       "axis": {"orient": "left", "title": "I (pA)", "titlePadding": 8, "labelPadding": 9, "values": [0,0.01,0.02,0.03,0.04,0.05,0.06,0.07,0.08,0.09,0.1,0.11,0.12,0.13,0.14,0.15,0.16,0.17],
        "labelExpr": "abs(datum.value*20-round(datum.value*20))<0.01 ? format(datum.value, '.2f') : ''",
        "tickSize": {"condition": {"test": "abs(datum.value*20-round(datum.value*20))<0.01", "value": -5}, "value": -2.5}}},
      "color": {"field": "c", "type": "nominal", "scale": {"domain": ["red", "green", "blue"], "range": ["#b31414", "#26a326", "#1414b8"]}, "legend": null},
      "strokeDash": {"field": "c", "type": "nominal", "scale": {"domain": ["red", "green", "blue"], "range": [[1, 0], [8, 4], [2.6, 2.4]]}, "legend": null},
      "detail": {"field": "s"},
      "order": {"value": null}
     }},
    {"data": {"values": [{}]}, "mark": {"type": "rect", "fill": null, "stroke": "#000000", "strokeWidth": 2.5, "strokeOpacity": 1},
     "encoding": {
      "x": {"datum": -0.031, "type": "quantitative", "scale": {"domain": [-0.031, 0.031], "nice": false, "zero": false}, "axis": null},
      "x2": {"datum": 0.031},
      "y": {"datum": -0.0026, "type": "quantitative", "scale": {"domain": [-0.0026, 0.175], "nice": false, "zero": false}, "axis": null},
      "y2": {"datum": 0.175}}}
   ]}
 ]}
]
}
